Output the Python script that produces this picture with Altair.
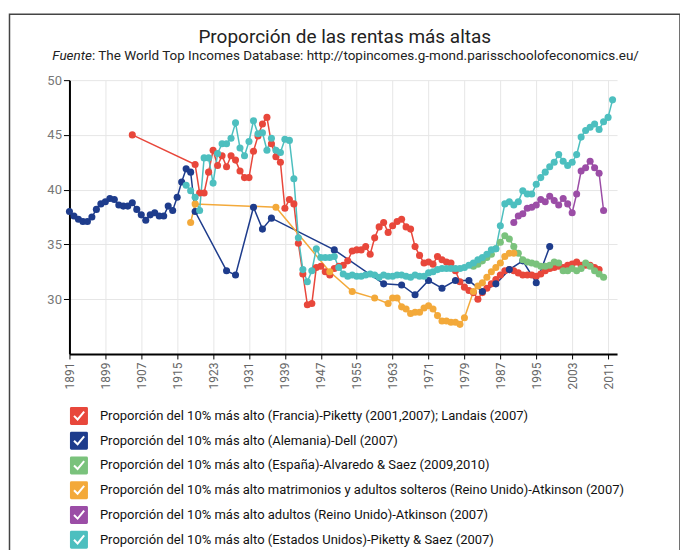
import altair as alt
import pandas as pd

# ---------------- data ----------------
names = [
    "Proporción del 10% más alto (Francia)-Piketty (2001,2007); Landais (2007)",
    "Proporción del 10% más alto (Alemania)-Dell (2007)",
    "Proporción del 10% más alto (España)-Alvaredo & Saez (2009,2010)",
    "Proporción del 10% más alto matrimonios y adultos solteros (Reino Unido)-Atkinson (2007)",
    "Proporción del 10% más alto adultos (Reino Unido)-Atkinson (2007)",
    "Proporción del 10% más alto (Estados Unidos)-Piketty & Saez (2007)",
]
colors = ["#e8473b", "#1e3c8c", "#7ac27c", "#f3a93a", "#9b4da6", "#4dbfbf"]

france_years = [1905] + list(range(1919, 2010))
france_vals = [45.0,
    42.3, 39.7, 39.7, 41.6, 43.6, 42.2, 43.1, 42.1, 43.1, 42.7,
    41.7, 41.1, 41.1, 43.5, 44.9, 46.0, 46.6, 44.2, 43.0, 42.5,
    38.3, 39.1, 38.7, 35.1, 32.3, 29.5, 29.6, 32.9, 33.0, 32.5,
    32.2, 32.8, 33.0, 33.1, 33.5, 34.4, 34.5, 34.5, 34.8, 34.1,
    35.6, 36.6, 37.0, 36.1, 36.7, 37.1, 37.3, 36.6, 36.4, 34.8,
    34.0, 33.3, 33.4, 33.2, 33.9, 33.6, 33.4, 33.3, 32.6, 31.6,
    31.1, 30.8, 30.6, 30.0, 30.6, 31.0, 31.4, 31.8, 32.2, 32.6,
    32.7, 32.6, 32.4, 32.2, 32.2, 32.2, 32.1, 32.3, 32.6, 32.8,
    32.9, 33.0, 32.9, 33.1, 33.2, 33.4, 33.1, 33.1, 33.1, 32.9,
    32.7]

germany_years = list(range(1891, 1920)) + [1926, 1928, 1932, 1934, 1936, 1950, 1961, 1965,
                                            1968, 1971, 1974, 1977, 1980, 1983, 1986, 1989,
                                            1992, 1995, 1998]
germany_vals = [38.0, 37.6, 37.3, 37.1, 37.1, 37.5, 38.2, 38.7, 38.9, 39.2,
                39.1, 38.6, 38.5, 38.5, 38.8, 38.2, 37.7, 37.2, 37.7, 37.9,
                37.6, 37.6, 38.5, 38.1, 39.3, 40.7, 41.9, 41.6, 38.0,
                32.6, 32.2, 38.4, 36.4, 37.4, 34.5, 31.4, 31.3,
                30.4, 31.7, 31.0, 31.7, 31.7, 30.7, 31.4, 32.7,
                33.5, 31.5, 34.8]

spain_years = list(range(1981, 2011))
spain_vals = [33.0, 33.2, 33.5, 33.8, 34.1, 34.6, 35.2, 35.8, 35.5, 34.8,
              34.2, 33.6, 33.4, 33.3, 33.2, 33.0, 33.0, 33.1, 33.4, 33.3,
              32.6, 32.6, 32.8, 32.6, 32.8, 33.3, 33.0, 32.6, 32.3, 32.0]

ukmar_years = [1918, 1919, 1937, 1949, 1954, 1959] + list(range(1962, 1980)) + list(range(1981, 1991))
ukmar_vals = [37.0, 38.7, 38.4, 32.5, 30.7, 30.1,
              29.6, 30.1, 30.1, 29.3, 29.1, 28.7, 28.8, 28.8, 29.2, 29.4,
              29.1, 28.5, 28.0, 28.0, 27.9, 27.9, 27.7, 28.3,
              30.7, 31.2, 31.5, 32.0, 32.5, 32.9, 33.3, 33.9, 34.2, 34.2]

ukad_years = list(range(1990, 2011))
ukad_vals = [37.0, 37.6, 37.8, 38.3, 38.4, 38.6, 39.1, 38.9, 39.4, 39.0,
             38.6, 39.2, 38.7, 37.9, 39.6, 41.7, 42.0, 42.6, 42.0, 41.5, 38.1]

us_years = list(range(1917, 2013))
us_vals = [40.4, 39.9, 39.3, 38.1, 42.9, 42.9, 40.6, 43.3, 44.2, 44.2,
           44.7, 46.1, 43.8, 43.1, 44.4, 46.3, 45.1, 45.2, 43.6, 44.7,
           43.6, 43.4, 44.6, 44.5, 41.0, 35.6, 32.7, 31.6, 32.6, 34.6,
           33.8, 33.8, 33.8, 33.9, 32.9, 32.3, 32.1, 32.2, 32.1, 32.1,
           32.2, 32.3, 32.2, 32.0, 32.2, 32.1, 32.1, 32.2, 32.2, 32.1,
           32.0, 32.2, 32.1, 32.1, 32.4, 32.5, 32.7, 32.8, 32.8, 32.8,
           32.8, 32.8, 32.9, 33.1, 33.3, 33.6, 33.8, 34.1, 34.5, 34.6,
           36.7, 38.7, 38.9, 38.6, 38.9, 39.9, 39.6, 39.6, 40.5, 41.1,
           41.6, 42.1, 42.5, 43.2, 42.6, 42.2, 42.5, 43.2, 44.8, 45.4,
           45.7, 46.0, 45.5, 46.2, 46.6, 48.2]

x_ticks = list(range(1891, 2012, 8))
y_ticks = [30, 35, 40, 45, 50]

title_text = "Proporción de las rentas más altas"
subtitle_lead = "Fuente"
subtitle_rest = ": The World Top Incomes Database: http://topincomes.g-mond.parisschoolofeconomics.eu/"

# ---------------- table ----------------
series = [(france_years, france_vals), (germany_years, germany_vals), (spain_years, spain_vals),
          (ukmar_years, ukmar_vals), (ukad_years, ukad_vals), (us_years, us_vals)]
rows = []
for i, (ys, vs) in enumerate(series):
    for yr, v in zip(ys, vs):
        rows.append({"anio": yr, "valor": v, "serie": names[i], "orden": i})
df = pd.DataFrame(rows)
one = pd.DataFrame({"k": [0]})

FONT = "Roboto"
W, H = 548, 274

x_enc = alt.X("anio:Q", scale=alt.Scale(domain=[1891, 2013], nice=False, zero=False),
              axis=alt.Axis(values=x_ticks, tickCount=40, format="d", labelAngle=270, title=None,
                            labelColor="#666", labelFontSize=12, labelFont=FONT,
                            labelOverlap=False, domainColor="#000", domainWidth=2,
                            tickColor="#000", tickSize=5, labelPadding=3,
                            gridColor="#e6e6e6"))
y_enc = alt.Y("valor:Q", scale=alt.Scale(domain=[25, 50], nice=False, zero=False),
              axis=alt.Axis(values=y_ticks, tickCount=10, title=None, labelColor="#777",
                            labelFontSize=13, labelFont=FONT, domainColor="#000",
                            domainWidth=2, tickColor="#000", tickSize=6,
                            gridColor="#e6e6e6"))

# legend symbol: rounded square with a check mark cut out (opposite winding -> hole)
CHECKBOX = ("M-0.84,-1L0.84,-1Q1,-1 1,-0.84L1,0.84Q1,1 0.84,1L-0.84,1Q-1,1 -1,0.84"
            "L-1,-0.84Q-1,-1 -0.84,-1Z"
            "M-0.628,0.078L-0.143,0.564L0.665,-0.41L0.495,-0.55L-0.157,0.237L-0.472,-0.078Z")

color_enc = alt.Color("serie:N", scale=alt.Scale(domain=names, range=colors),
                      legend=alt.Legend(orient="none", legendX=0.5, legendY=327, title=None,
                                        symbolType=CHECKBOX, symbolSize=324,
                                        symbolStrokeWidth=0, symbolOpacity=1,
                                        labelFont=FONT, labelFontSize=13, labelColor="#111",
                                        labelLimit=0, labelOffset=12, rowPadding=6.8,
                                        padding=0, direction="vertical"))

lines = alt.Chart(df).mark_line(strokeWidth=1.5).encode(
    x=x_enc, y=y_enc, color=color_enc, detail="serie:N", order=alt.Order("anio:Q"))

points = alt.Chart(df).mark_circle(size=50, opacity=1).encode(
    x="anio:Q", y="valor:Q",
    color=alt.Color("serie:N", scale=alt.Scale(domain=names, range=colors), legend=None),
    order=alt.Order("orden:Q"))

frame = alt.Chart(one).mark_rect(
    fill="transparent", stroke="#444", strokeWidth=1.5).encode(
    x=alt.value(-60), x2=alt.value(611), y=alt.value(-66), y2=alt.value(480))

title = alt.Chart(one).mark_text(
    font=FONT, fontSize=19, fontWeight="normal", color="#222", align="center", baseline="alphabetic"
).encode(x=alt.value(275.5), y=alt.value(-37), text=alt.value(title_text))

sub_lead = alt.Chart(one).mark_text(
    font=FONT, fontSize=13.5, fontStyle="italic", color="#222", align="right", baseline="alphabetic"
).encode(x=alt.value(22.5), y=alt.value(-20), text=alt.value(subtitle_lead))

sub_rest = alt.Chart(one).mark_text(
    font=FONT, fontSize=13.5, color="#222", align="left", baseline="alphabetic"
).encode(x=alt.value(22.5), y=alt.value(-20), text=alt.value(subtitle_rest))

chart = alt.layer(frame, title, sub_lead, sub_rest, lines, points).properties(
    width=W, height=H,
    autosize=alt.AutoSizeParams(type="none"),
    padding={"left": 61.5, "top": 72, "right": 63, "bottom": 196},
).configure_view(stroke=None)

chart.save("out.html", embed_options={"renderer": "svg", "actions": False})
